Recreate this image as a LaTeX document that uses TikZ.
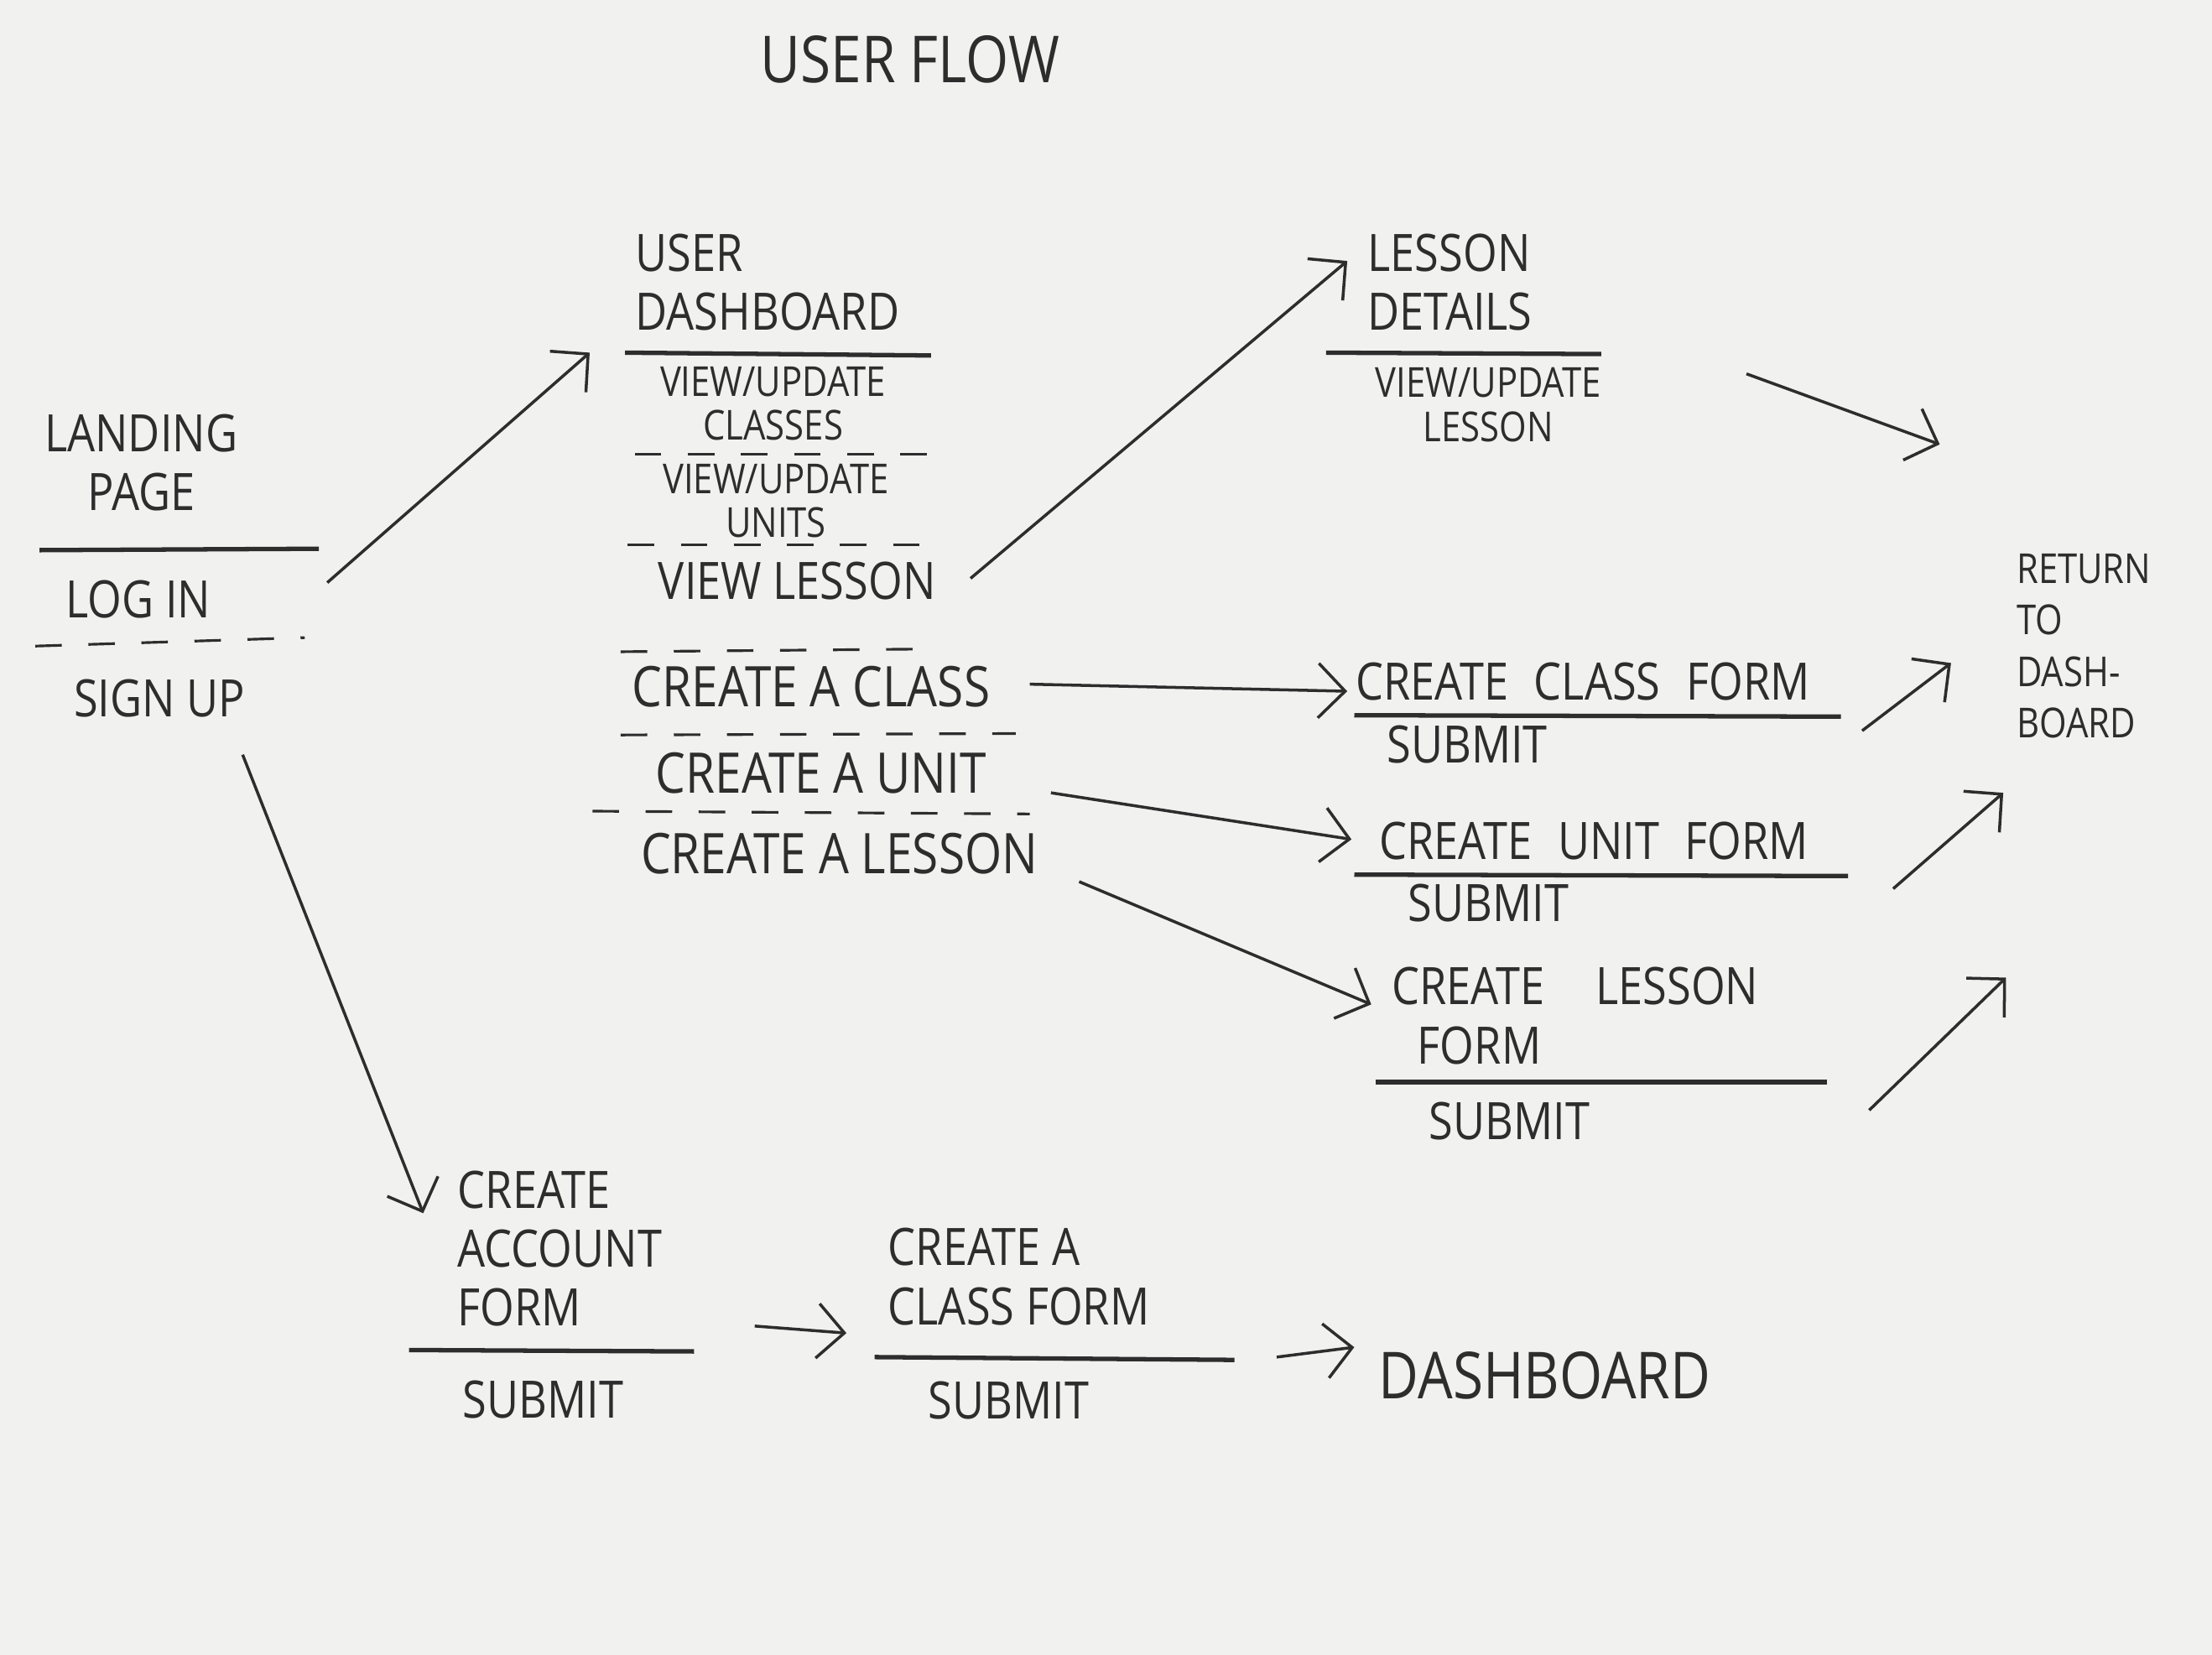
\documentclass[tikz,border=0pt]{standalone}
\usepackage{fontspec}
\setmainfont[FakeStretch=0.85]{Open Sans}
\usetikzlibrary{arrows.meta}
\definecolor{pencil}{RGB}{45,45,45}
\definecolor{paper}{RGB}{241,241,240}

\begin{document}
\begin{tikzpicture}[x=0.016818cm, y=-0.016818cm,
  every node/.style={text=pencil, inner sep=2pt},
  head/.style={font=\fontsize{17.5}{20}\selectfont, align=center},
  todo/.style={font=\fontsize{19}{21}\selectfont},
  item/.style={font=\fontsize{14}{15}\selectfont, align=center},
  note/.style={font=\fontsize{14}{17.5}\selectfont, align=left},
  big/.style={font=\fontsize{22}{26}\selectfont},
  flow/.style={draw=pencil, line width=1pt, -{Straight Barb[length=3.2mm,width=6.5mm]}},
  rule/.style={draw=pencil, line width=1.5pt},
  sep/.style={draw=pencil, line width=0.9pt, dash pattern=on 9pt off 9pt}]
  \fill[paper] (0,0) rectangle (1568,1173);

  \node[big] (title) at (645,42) {USER FLOW};

  % landing page
  \node[head] (landing) at (100,328) {LANDING\\PAGE};
  \draw[rule] (28,390) -- (226,389);
  \node[head] (login) at (98,425) {LOG IN};
  \draw[sep] (25,458) -- (216,452);
  \node[head] (signup) at (113,495) {SIGN UP};

  % user dashboard
  \node[head, align=left, anchor=west] (dash) at (446,200) {USER\\DASHBOARD};
  \draw[rule] (443,250) -- (660,252);
  \node[item] (vclasses) at (548,286) {VIEW/UPDATE\\CLASSES};
  \draw[sep] (450,322) -- (672,322);
  \node[item] (vunits) at (550,355) {VIEW/UPDATE\\UNITS};
  \draw[sep] (445,386) -- (665,386);
  \node[head] (vlesson) at (565,412) {VIEW LESSON};
  \draw[sep] (440,462) -- (665,460);
  \node[todo] (cclass) at (575,487) {CREATE A CLASS};
  \draw[sep] (440,521) -- (720,520);
  \node[todo] (cunit) at (582,548) {CREATE A UNIT};
  \draw[sep] (420,575) -- (730,577);
  \node[todo] (clesson) at (595,605) {CREATE A LESSON};

  % lesson details
  \node[head, align=left, anchor=west] (details) at (965,200) {LESSON\\DETAILS};
  \draw[rule] (940,250) -- (1135,251);
  \node[item] (vupdate) at (1055,287) {VIEW/UPDATE\\LESSON};

  % forms
  \node[head] (classform) at (1122,483) {CREATE\enspace CLASS\enspace FORM};
  \draw[rule] (960,507) -- (1305,508);
  \node[head] (classsubmit) at (1040,528) {SUBMIT};
  \node[head] (unitform) at (1130,596) {CREATE\enspace UNIT\enspace FORM};
  \draw[rule] (960,620) -- (1310,621);
  \node[head] (unitsubmit) at (1055,640) {SUBMIT};
  \node[head, align=left, anchor=west] (lessonform) at (982,720) {CREATE\quad LESSON\\\hspace*{0.5em}FORM};
  \draw[rule] (975,767) -- (1295,767);
  \node[head] (lessonsubmit) at (1070,795) {SUBMIT};

  \node[note, anchor=west] (return) at (1425,458) {RETURN\\TO\\DASH-\\BOARD};
  \coordinate (ret-a) at (1375,315);
  \coordinate (ret-b) at (1383,470);
  \coordinate (ret-c) at (1420,562);
  \coordinate (ret-d) at (1422,693);

  % sign up
  \node[head, align=left, anchor=west] (account) at (320,885) {CREATE\\ACCOUNT\\FORM};
  \draw[rule] (290,957) -- (492,958);
  \node[head] (accsubmit) at (385,992) {SUBMIT};
  \node[head, align=left, anchor=west] (newclass) at (625,905) {CREATE A\\CLASS FORM};
  \draw[rule] (620,962) -- (875,964);
  \node[head] (newsubmit) at (715,993) {SUBMIT};
  \node[big] (home) at (1095,975) {DASHBOARD};

  % arrows
  \draw[flow] ([shift={(134,-12)}]login.center) -- ([shift={(-28,50)}]dash.west);
  \draw[flow] ([shift={(59,40)}]signup.center) -- ([shift={(-20,-25)}]account.west);
  \draw[flow] ([shift={(123,-2)}]vlesson.center) -- ([shift={(-10,-15)}]details.west);
  \draw[flow] ([shift={(183,-22)}]vupdate.center) -- (ret-a);
  \draw[flow] ([shift={(155,-2)}]cclass.center) -- ([shift={(-167,7)}]classform.center);
  \draw[flow] ([shift={(163,14)}]cunit.center) -- ([shift={(-172,-1)}]unitform.center);
  \draw[flow] ([shift={(170,20)}]clesson.center) -- ([shift={(-10,-8)}]lessonform.west);
  \draw[flow] ([shift={(198,35)}]classform.center) -- (ret-b);
  \draw[flow] ([shift={(212,34)}]unitform.center) -- (ret-c);
  \draw[flow] ([shift={(255,-8)}]lessonsubmit.center) -- (ret-d);
  \draw[flow] ([shift={(215,55)}]account.west) -- ([shift={(-25,40)}]newclass.west);
  \draw[flow] ([shift={(190,-31)}]newsubmit.center) -- ([shift={(-135,-20)}]home.center);
\end{tikzpicture}
\end{document}
